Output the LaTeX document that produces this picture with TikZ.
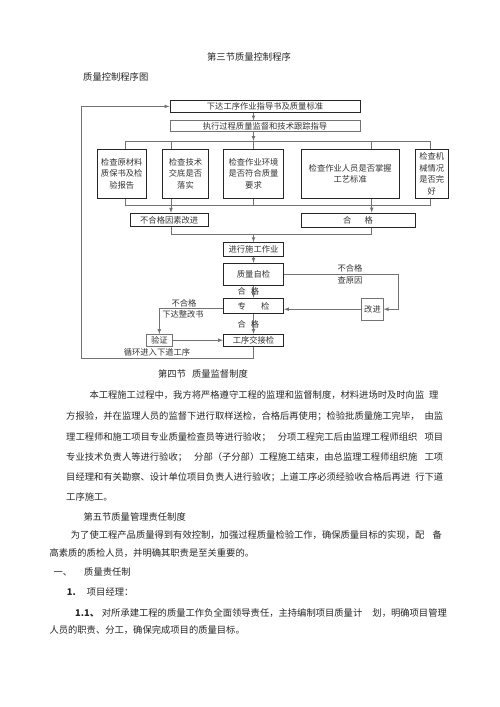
\documentclass[tikz,border=0pt]{standalone}
\usepackage{fontspec}
\setmainfont{Noto Sans CJK SC}
\usetikzlibrary{arrows,positioning,calc}

\newcommand{\chartfont}{\fontsize{8.3}{11.7}\selectfont}
\newcommand{\bodyfont}{\fontsize{9.3}{11}\selectfont}

\begin{document}
\begin{tikzpicture}[x=1pt, y=-1pt, >=latex,
    box/.style={draw=black!85, line width=1pt, inner sep=0pt, align=center, font=\chartfont, text=black!80},
    lbox/.style={draw=black!55, line width=0.6pt, inner sep=0pt, align=center, font=\chartfont, text=black!80},
    line/.style={draw=black!55, line width=0.7pt},
    lab/.style={inner sep=0pt, font=\chartfont, text=black!80},
    txt/.style={inner sep=0pt, anchor=west, font=\bodyfont, text=black!85, text height=7.5pt, text depth=0.5pt}]
          \useasboundingbox (0,0) rectangle (500,707);

          % headings
          \node[txt, anchor=center] at (249,56.7) (title) {第三节质量控制程序};
          \node[txt] at (83,76.7) (subtitle) {质量控制程序图};

          % flow chart
          \coordinate (col) at (253.5,0);
          \coordinate (lft) at (81,0);
          \coordinate (v1) at (125,0);
          \coordinate (v2) at (171,0);
          \coordinate (v4) at (371.7,0);
          \coordinate (v5) at (430.7,0);
          \coordinate (v6) at (398.3,0);
          \coordinate (top) at (0,141);
          \coordinate (bot) at (0,205);
          \coordinate (mid) at (0,234.3);

          \node[box, minimum width=190pt, minimum height=12.7pt] at (265,106.4) (zhidao) {下达工序作业指导书及质量标准};
          \node[lbox, minimum width=190pt, minimum height=11pt] at (265,126.2) (zhixing) {执行过程质量监督和技术跟踪指导};

          \node[box, minimum width=48.7pt, minimum height=49pt] at (121.7,173.8) (c1) {检查原材料\\质保书及检\\验报告};
          \node[box, minimum width=45.6pt, minimum height=49pt] at (185.5,173.8) (c2) {检查技术\\交底是否\\落实};
          \node[box, minimum width=60.3pt, minimum height=49pt] at (253.5,173.8) (c3) {检查作业环境\\是否符合质量\\要求};
          \node[box, minimum width=98.3pt, minimum height=49pt] at (350.2,173.8) (c4) {检查作业人员是否掌握\\工艺标准};
          \node[box, minimum width=33.3pt, minimum height=49pt] at (431.7,173.8) (c5) {检查机\\械情况\\是否完\\好};

          \node[box, minimum width=78.3pt, minimum height=13.4pt] at (169.2,220) (buhege) {不合格因素改进};
          \node[box, minimum width=114pt, minimum height=14pt] at (358,220) (hege) {合\hspace{13pt}格};

          \node[box, minimum width=60pt, minimum height=14pt] at (253.5,249.7) (shigong) {进行施工作业};
          \node[box, minimum width=60pt, minimum height=21.7pt] at (253.5,274.2) (zijian) {质量自检};
          \node[box, minimum width=60pt, minimum height=15.5pt] at (253.5,306) (zhuanjian) {专\hspace{15pt}检};
          \node[box, minimum width=60pt, minimum height=11.7pt] at (253.5,340.2) (jiaojie) {工序交接检};
          \node[lbox, minimum width=26.7pt, minimum height=11.7pt] at (159.3,340.2) (yanzheng) {验证};
          \node[lbox, minimum width=21.6pt, minimum height=21.7pt] at (372.5,309.2) (gaijin) {改进};

          \draw[line,->] (zhidao.south -| col) -- (zhixing.north -| col);
          \draw[line,->] (zhixing.south -| col) -- (col |- top);
          \draw[line] (col |- top) -- (c3.north);
          \draw[line] (c1.north -| v1) -- (v1 |- top) -- (v5 |- top) -- (c5.north -| v5);
          \draw[line] (c2.north -| v2) -- (v2 |- top);
          \draw[line] (c4.north -| v4) -- (v4 |- top);
          \draw[line] (c1.south -| v1) -- (v1 |- bot) -- (v5 |- bot) -- (c5.south -| v5);
          \draw[line] (c2.south -| v2) -- (v2 |- bot);
          \draw[line] (c3.south) -- (col |- bot);
          \draw[line] (c4.south -| v4) -- (v4 |- bot);
          \draw[line,->] (v2 |- bot) -- (buhege.north -| v2);
          \draw[line,->] (v4 |- bot) -- (hege.north -| v4);
          \draw[line] (buhege.south -| v2) -- (v2 |- mid) -- (v4 |- mid) -- (hege.south -| v4);
          \draw[line,->] (col |- mid) -- (shigong.north);
          \draw[line,->] (shigong) -- (zijian);
          \draw[line,->] (zijian) -- node[lab, xshift=-5pt] (hg1) {合\hspace{5pt}格} (zhuanjian);
          \draw[line,->] (zhuanjian) -- node[lab, xshift=-5pt] (hg2) {合\hspace{5pt}格} (jiaojie);
          \draw[line,->] (zijian.east) -| (gaijin.east -| v6) -- (gaijin.east);
          \draw[line,->] (gaijin.west) -- (gaijin.west -| zhuanjian.east);
          \draw[line,->] ([yshift=-2pt]zhuanjian.west) -| (yanzheng.north);
          \draw[line,->] (yanzheng) -- (jiaojie);
          \draw[line,->] (jiaojie.south) -- ++(0,11.8) -| (zhidao.west -| lft) -- (zhidao.west);

          \node[lab] at (350,268.3) (bhg1) {不合格};
          \node[lab] at (350,280) (cyy) {查原因};
          \node[lab] at (184,303.5) (bhg2) {不合格};
          \node[lab] at (183,314.5) (zgs) {下达整改书};
          \node[lab] at (157,352.3) (xh) {循环进入下道工序};

          % text below the chart
          \node[txt, anchor=center] at (203,374) (s4) {第四节\hspace{6pt}质量监督制度};
          \node[txt] at (89.3,395) (p1) {\makebox[349pt][l]{本工程施工过程中，我方将严格遵守工程的监理和监督制度，材料进场时及时向监\hfill 理}};
          \node[txt] at (66,416) (p2) {\makebox[377pt][l]{方报验，并在监理人员的监督下进行取样送检，合格后再使用；检验批质量施工完毕，\hfill 由监}};
          \node[txt] at (66,436.5) (p3) {\makebox[377pt][l]{理工程师和施工项目专业质量检查员等进行验收；\hfill 分项工程完工后由监理工程师组织\hfill 项目}};
          \node[txt] at (66,456.5) (p4) {\makebox[377pt][l]{专业技术负责人等进行验收；\hfill 分部（子分部）工程施工结束，由总监理工程师组织施\hfill 工项}};
          \node[txt] at (66,476.5) (p5) {\makebox[377pt][l]{目经理和有关勘察、设计单位项目负责人进行验收；上道工序必须经验收合格后再进\hfill 行下道}};
          \node[txt] at (66,496.5) (p6) {工序施工。};
          \node[txt] at (83.3,516.5) (s5) {第五节质量管理责任制度};
          \node[txt] at (70.7,535) (q1) {\makebox[371pt][l]{为了使工程产品质量得到有效控制，加强过程质量检验工作，确保质量目标的实现，配\hfill 备}};
          \node[txt] at (49.3,553) (q2) {高素质的质检人员，并明确其职责是至关重要的。};
          \node[txt] at (53.3,572) (n1) {一、};
          \node[txt] at (84,572) (n1t) {质量责任制};
          \node[txt] at (66.7,592) (n2) {\textbf{1.}};
          \node[txt] at (86.7,592) (n2t) {项目经理：};
          \node[txt] at (75,613) (n3) {\textbf{1.1、}};
          \node[txt] at (101.7,613) (n3t) {\makebox[345pt][l]{对所承建工程的质量工作负全面领导责任，主持编制项目质量计\hfill 划，明确项目管理}};
          \node[txt] at (49.3,630) (n4) {人员的职责、分工，确保完成项目的质量目标。};
        \end{tikzpicture}
\end{document}
